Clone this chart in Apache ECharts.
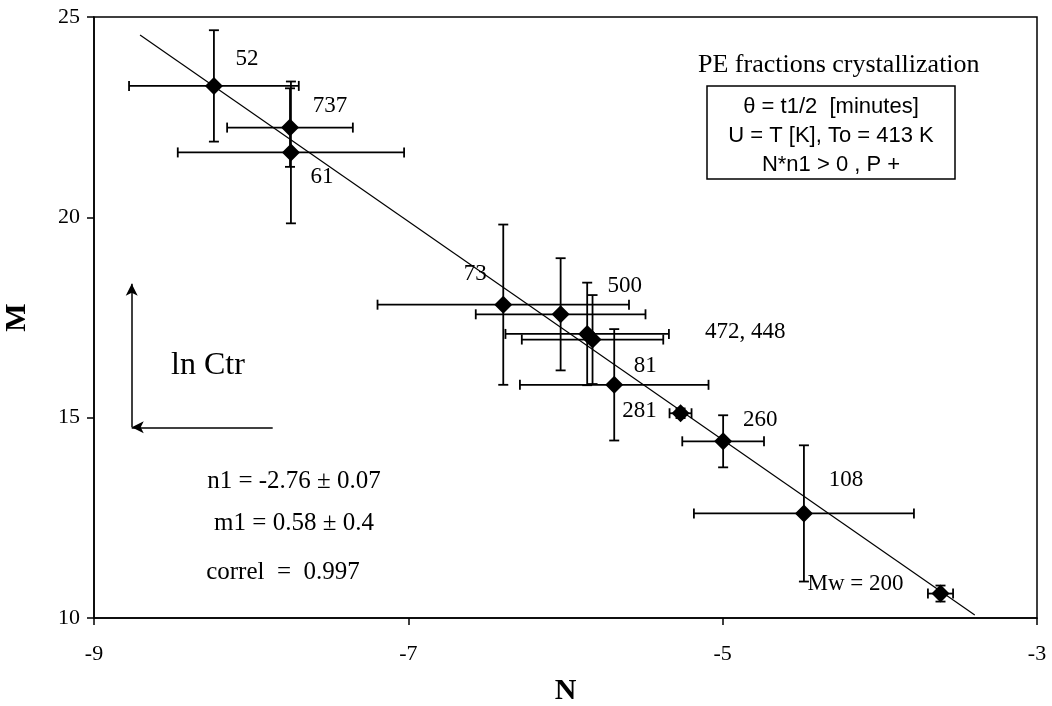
<!DOCTYPE html>
<html>
<head>
<meta charset="utf-8">
<script src="https://cdn.jsdelivr.net/npm/echarts@6/dist/echarts.min.js"></script>
<style>
  html, body { margin: 0; padding: 0; background: #fff; }
  #chart { width: 1052px; height: 706px; }
</style>
</head>
<body>
<div id="chart"></div>
<script>
// PE fractions: crystallization half-time analysis, M versus N with error bars
const fractions = ['52', '737', '61', '73', '500', '472', '448', '81', '281', '260', '108', '200'];
const nValues = [-8.237, -7.753, -7.747, -6.396, -6.031, -5.862, -5.828, -5.690, -5.268, -4.997, -4.483, -3.614];
const mValues = [23.28, 22.24, 21.62, 17.82, 17.58, 17.09, 16.95, 15.82, 15.11, 14.41, 12.61, 10.61];
const nErrors = [0.54, 0.40, 0.72, 0.80, 0.54, 0.52, 0.45, 0.60, 0.07, 0.26, 0.70, 0.08];
const mErrors = [1.39, 0.98, 1.77, 2.00, 1.40, 1.28, 1.11, 1.39, 0.12, 0.65, 1.70, 0.20];
const pointLabels = ['52', '737', '61', '73', '500', '472, 448', '', '81', '281', '260', '108', 'Mw = 200'];

// regression line end points
const fitN = [-8.707, -3.396];
const fitM = [24.55, 10.075];

// "ln Ctr" direction arrows (data coordinates)
const arrowN = [-8.76, -7.863];
const arrowM = [14.76, 18.34];

const xTicks = [-9, -7, -5, -3];
const yTicks = [10, 15, 20, 25];

// label placement relative to each diamond, in pixels
const labelOffsets = [[33, -27], [40, -22], [31, 25], [-28, -31], [64, -28], [158, -2], [0, 0],
                      [31, -19], [-41, -2], [37, -21], [42, -33], [-85, -10]];

const serif = '"Liberation Serif", "Times New Roman", serif';
const sans = '"Liberation Sans", Arial, sans-serif';

const chart = echarts.init(document.getElementById('chart'), null, { renderer: 'canvas' });

const errorData = nValues.map((n, i) => [n, mValues[i], nErrors[i], mErrors[i]]);
const pointData = nValues.map((n, i) => ({
  value: [n, mValues[i]],
  label: {
    show: pointLabels[i] !== '',
    formatter: pointLabels[i],
    offset: labelOffsets[i]
  }
}));

const option = {
  animation: false,
  backgroundColor: '#fff',
  grid: {
    left: 94, right: 15, top: 17, bottom: 88,
    outerBoundsMode: 'none',
    containLabel: false,
    show: true, borderColor: '#000', borderWidth: 1.5, backgroundColor: 'transparent'
  },
  xAxis: {
    type: 'value',
    min: xTicks[0], max: xTicks[xTicks.length - 1], interval: 2,
    name: 'N', nameLocation: 'middle', nameGap: 58,
    nameTextStyle: { fontFamily: serif, fontWeight: 'bold', fontSize: 30, color: '#000' },
    axisLine: { show: true, onZero: false, lineStyle: { color: '#000', width: 1.5 } },
    axisTick: { show: true, inside: false, length: 7, lineStyle: { color: '#000', width: 1.5 } },
    axisLabel: { fontFamily: serif, fontSize: 22, color: '#000', margin: 25 },
    splitLine: { show: false }
  },
  yAxis: {
    type: 'value',
    min: yTicks[0], max: yTicks[yTicks.length - 1], interval: 5,
    name: 'M', nameLocation: 'middle', nameGap: 62, nameRotate: 90,
    nameTextStyle: { fontFamily: serif, fontWeight: 'bold', fontSize: 30, color: '#000' },
    axisLine: { show: true, onZero: false, lineStyle: { color: '#000', width: 1.5 } },
    axisTick: { show: true, inside: false, length: 7, lineStyle: { color: '#000', width: 1.5 } },
    axisLabel: { fontFamily: serif, fontSize: 22, color: '#000', margin: 14 },
    splitLine: { show: false }
  },
  series: [
    {
      // regression line
      type: 'line',
      data: [[fitN[0], fitM[0]], [fitN[1], fitM[1]]],
      symbol: 'none',
      lineStyle: { color: '#000', width: 1.2 },
      silent: true,
      z: 2,
      markLine: {
        silent: true,
        symbol: ['none', 'arrow'],
        symbolSize: [9, 12],
        label: { show: false },
        lineStyle: { color: '#000', width: 1.5, type: 'solid' },
        data: [
          [{ coord: [arrowN[0], arrowM[0]] }, { coord: [arrowN[0], arrowM[1]] }],
          [{ coord: [arrowN[1], arrowM[0]] }, { coord: [arrowN[0], arrowM[0]] }]
        ]
      }
    },
    {
      // error bars with end caps
      type: 'custom',
      data: errorData,
      silent: true,
      z: 3,
      renderItem: function (params, api) {
        const n = api.value(0), m = api.value(1), en = api.value(2), em = api.value(3);
        const l = api.coord([n - en, m]);
        const r = api.coord([n + en, m]);
        const t = api.coord([n, m + em]);
        const b = api.coord([n, m - em]);
        const cap = 5;
        const style = { stroke: '#000', lineWidth: 1.8 };
        const seg = (x1, y1, x2, y2) => ({ type: 'line', shape: { x1, y1, x2, y2 }, style });
        return {
          type: 'group',
          children: [
            seg(l[0], l[1], r[0], r[1]),
            seg(l[0], l[1] - cap, l[0], l[1] + cap),
            seg(r[0], r[1] - cap, r[0], r[1] + cap),
            seg(t[0], t[1], b[0], b[1]),
            seg(t[0] - cap, t[1], t[0] + cap, t[1]),
            seg(b[0] - cap, b[1], b[0] + cap, b[1])
          ]
        };
      }
    },
    {
      // fraction markers
      type: 'scatter',
      data: pointData,
      symbol: 'diamond',
      symbolSize: 18,
      itemStyle: { color: '#000', opacity: 1 },
      z: 4,
      label: {
        position: 'inside',
        fontFamily: serif,
        fontSize: 23,
        color: '#000'
      }
    }
  ],
  graphic: [
    {
      type: 'text', left: 848 - 150, top: 52,
      style: { text: 'PE fractions crystallization', font: '26px ' + serif, fill: '#000', width: 300, align: 'center' }
    },
    {
      type: 'rect', shape: { x: 707, y: 86, width: 248, height: 93 },
      style: { fill: '#fff', stroke: '#000', lineWidth: 1.5 }
    },
    {
      type: 'text', x: 831, y: 107,
      style: { text: 'θ = t1/2  [minutes]', font: '22px ' + sans, fill: '#000', align: 'center', verticalAlign: 'middle' }
    },
    {
      type: 'text', x: 831, y: 136,
      style: { text: 'U = T [K], To = 413 K', font: '22px ' + sans, fill: '#000', align: 'center', verticalAlign: 'middle' }
    },
    {
      type: 'text', x: 831, y: 165,
      style: { text: 'N*n1 > 0 , P +', font: '22px ' + sans, fill: '#000', align: 'center', verticalAlign: 'middle' }
    },
    {
      type: 'text', x: 208, y: 366,
      style: { text: 'ln Ctr', font: '32px ' + serif, fill: '#000', align: 'center', verticalAlign: 'middle' }
    },
    {
      type: 'text', x: 294, y: 481,
      style: { text: 'n1 = -2.76 ± 0.07', font: '25px ' + serif, fill: '#000', align: 'center', verticalAlign: 'middle' }
    },
    {
      type: 'text', x: 294, y: 523,
      style: { text: 'm1 = 0.58 ± 0.4', font: '25px ' + serif, fill: '#000', align: 'center', verticalAlign: 'middle' }
    },
    {
      type: 'text', x: 283, y: 572,
      style: { text: 'correl  =  0.997', font: '25px ' + serif, fill: '#000', align: 'center', verticalAlign: 'middle' }
    }
  ]
};

chart.setOption(option);
</script>
</body>
</html>
